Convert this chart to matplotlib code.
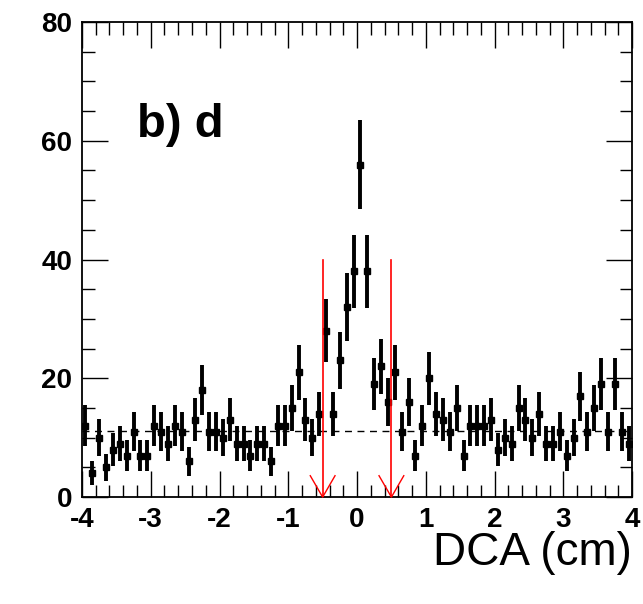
import numpy as np
import matplotlib
matplotlib.use("Agg")
import matplotlib.pyplot as plt
from matplotlib.ticker import MultipleLocator

# histogram of DCA, 80 bins of 0.1 cm between -4 and 4
x_lo, x_hi = -4.0, 4.0
counts = [12, 4, 10, 5, 8, 9, 7, 11, 7, 7,
          12, 11, 9, 12, 11, 6, 13, 18, 11, 11,
          10, 13, 9, 9, 7, 9, 9, 6, 12, 12,
          15, 21, 13, 10, 14, 28, 14, 23, 32, 38,
          56, 38, 19, 22, 16, 21, 11, 16, 7, 12,
          20, 14, 13, 11, 15, 7, 12, 12, 12, 13,
          8, 10, 9, 15, 13, 10, 14, 9, 9, 11,
          7, 10, 17, 11, 15, 19, 11, 19, 11, 9]
background = 11.1          # flat level (dashed line)
cuts = [-0.5, 0.5]         # DCA cut positions (red arrows)
arrow_top = 40.0
panel_label = "b) d"
xlabel = "DCA (cm)"

counts = np.array(counts, dtype=float)
edges = np.linspace(x_lo, x_hi, len(counts) + 1)
centers = 0.5 * (edges[:-1] + edges[1:])
errors = np.sqrt(counts)

plt.rcParams['font.family'] = ['Liberation Sans', 'DejaVu Sans']
plt.rcParams['axes.unicode_minus'] = False

fig = plt.figure(figsize=(6.43, 6.04), dpi=100)
ax = fig.add_axes([0.1275, 0.177, 0.8555, 0.7866])

ax.errorbar(centers, counts, yerr=errors, fmt='s', color='black',
            markersize=4.5, elinewidth=2.8, capsize=0, zorder=3)

ax.plot([x_lo, x_hi], [background, background], color='black',
        linestyle=(0, (5, 4)), linewidth=1.0, zorder=2)

for c in cuts:
    ax.plot([c, c], [0, arrow_top], color='red', linewidth=1.2, zorder=4)
    ax.plot([c - 0.18, c, c + 0.18], [3.6, 0, 3.6], color='red',
            linewidth=1.0, zorder=4, clip_on=False)

ax.text(-3.2, 62.6, panel_label, fontsize=34, fontweight='bold',
        ha='left', va='center')

ax.set_xlim(x_lo, x_hi)
ax.set_ylim(0, 80)
ax.xaxis.set_major_locator(MultipleLocator(1))
ax.xaxis.set_minor_locator(MultipleLocator(0.2))
ax.yaxis.set_major_locator(MultipleLocator(20))
ax.yaxis.set_minor_locator(MultipleLocator(5))
ax.tick_params(which='both', direction='in', top=True, right=True,
               width=1.0, labelsize=20, pad=7)
ax.tick_params(which='major', length=19)
ax.tick_params(which='minor', length=9)
for lab in ax.get_xticklabels() + ax.get_yticklabels():
    lab.set_fontweight('bold')
for s in ax.spines.values():
    s.set_linewidth(1.3)

fig.text(0.983, 0.085, xlabel, fontsize=33, ha='right', va='center')

fig.savefig("out.png", dpi=100)
